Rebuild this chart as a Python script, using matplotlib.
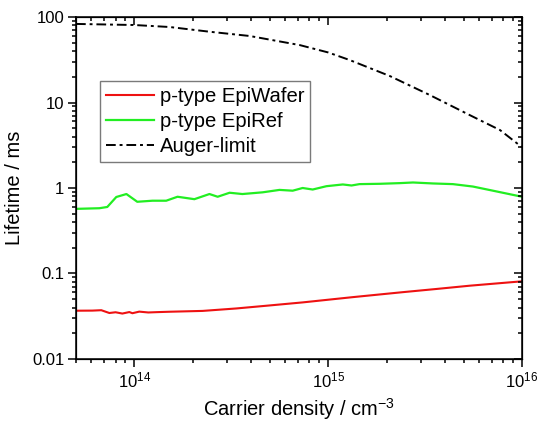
import matplotlib
matplotlib.use("Agg")
import matplotlib.pyplot as plt
import matplotlib.ticker as ticker

plt.rcParams['font.family'] = ['Liberation Sans', 'DejaVu Sans']
plt.rcParams['mathtext.fontset'] = 'custom'
plt.rcParams['mathtext.rm'] = 'Liberation Sans'
plt.rcParams['mathtext.it'] = 'Liberation Sans:italic'

# p-type EpiWafer
wafer_n = [5.0e13, 6.07e13, 6.75e13, 7.43e13, 8.0e13, 8.67e13, 9.42e13, 9.77e13,
           1.06e14, 1.18e14, 1.30e14, 1.52e14, 2.25e14, 3.36e14, 4.99e14,
           7.38e14, 1.34e15, 2.43e15, 3.64e15, 5.38e15, 1.0e16]
wafer_tau = [0.0367, 0.0368, 0.0372, 0.0345, 0.0352, 0.0340, 0.0354, 0.0343,
             0.0358, 0.0350, 0.0353, 0.0357, 0.0365, 0.0390, 0.0423,
             0.0459, 0.0529, 0.0605, 0.0660, 0.0720, 0.0810]

# p-type EpiRef
ref_n = [5.0e13, 6.6e13, 7.25e13, 8.07e13, 9.1e13, 1.035e14, 1.24e14, 1.46e14,
         1.67e14, 2.04e14, 2.44e14, 2.69e14, 3.10e14, 3.61e14, 4.59e14, 5.61e14,
         6.56e14, 7.38e14, 8.32e14, 9.8e14, 1.19e15, 1.32e15, 1.45e15, 1.85e15,
         2.34e15, 2.74e15, 3.47e15, 4.40e15, 5.58e15, 7.08e15, 1.0e16]
ref_tau = [0.57, 0.58, 0.60, 0.785, 0.85, 0.69, 0.71, 0.71,
           0.79, 0.74, 0.85, 0.79, 0.88, 0.85, 0.89, 0.95,
           0.93, 1.0, 0.96, 1.05, 1.10, 1.07, 1.11, 1.12,
           1.14, 1.16, 1.13, 1.11, 1.04, 0.93, 0.79]

# Auger limit
auger_n = [5.0e13, 1.0e14, 1.52e14, 2.44e14, 3.93e14, 7.12e14, 1.0e15, 1.29e15,
           2.08e15, 3.35e15, 5.39e15, 7.7e15, 1.0e16]
auger_tau = [83, 80.6, 76.4, 67.3, 60, 47, 38.5, 31.4, 20.4, 12.2, 7.1, 4.76, 3.0]

x_ticks = [1e14, 1e15, 1e16]
x_ticklabels = [r'$\mathregular{10^{14}}$', r'$\mathregular{10^{15}}$', r'$\mathregular{10^{16}}$']
y_ticks = [0.01, 0.1, 1, 10, 100]
y_ticklabels = ['0.01', '0.1', '1', '10', '100']

fig = plt.figure(figsize=(5.41, 4.21), dpi=100)
ax = fig.add_axes([0.1405, 0.1473, 0.8244, 0.8123])

ax.plot(wafer_n, wafer_tau, color='#ee1111', lw=1.5, label='p-type EpiWafer')
ax.plot(ref_n, ref_tau, color='#22ee22', lw=1.6, label='p-type EpiRef')
ax.plot(auger_n, auger_tau, color='k', lw=1.4, linestyle=(0, (5, 2, 1.5, 2)),
        label='Auger-limit')

ax.set_xscale('log')
ax.set_yscale('log')
ax.set_xlim(5e13, 1e16)
ax.set_ylim(0.01, 100)

ax.xaxis.set_major_locator(ticker.FixedLocator(x_ticks))
ax.xaxis.set_major_formatter(ticker.FixedFormatter(x_ticklabels))
ax.xaxis.set_minor_locator(ticker.LogLocator(base=10, subs=range(2, 10), numticks=20))
ax.xaxis.set_minor_formatter(ticker.NullFormatter())
ax.yaxis.set_major_locator(ticker.FixedLocator(y_ticks))
ax.yaxis.set_major_formatter(ticker.FixedFormatter(y_ticklabels))
ax.yaxis.set_minor_locator(ticker.LogLocator(base=10, subs=range(2, 10), numticks=20))
ax.yaxis.set_minor_formatter(ticker.NullFormatter())

ax.tick_params(which='both', direction='out', width=1.1, labelsize=12, pad=3,
               top=False, right=False)
ax.tick_params(which='major', length=5.5)
ax.tick_params(which='minor', length=3)
for sp in ax.spines.values():
    sp.set_linewidth(1.1)

# mirrored ticks pointing inward on top and right
axt = ax.twiny()
axt.set_xscale('log')
axt.set_xlim(ax.get_xlim())
axt.xaxis.set_minor_locator(ticker.LogLocator(base=10, subs=range(2, 10), numticks=20))
axt.tick_params(which='both', direction='in', width=1.1, labeltop=False)
axt.tick_params(which='major', length=5.5)
axt.tick_params(which='minor', length=3)
axr = ax.twinx()
axr.set_yscale('log')
axr.set_ylim(ax.get_ylim())
axr.yaxis.set_minor_locator(ticker.LogLocator(base=10, subs=range(2, 10), numticks=20))
axr.tick_params(which='both', direction='in', width=1.1, labelright=False)
axr.tick_params(which='major', length=5.5)
axr.tick_params(which='minor', length=3)

ax.set_xlabel(r'Carrier density / cm$^{\mathregular{-3}}$', fontsize=14.5, labelpad=4)
ax.set_ylabel('Lifetime / ms', fontsize=14.5, labelpad=6)

leg = ax.legend(loc='upper left', bbox_to_anchor=(0.054, 0.813), borderaxespad=0,
                fontsize=14.6, frameon=True, fancybox=False, handlelength=2.35,
                handletextpad=0.3, borderpad=0.3, labelspacing=0.3)
leg.get_frame().set_edgecolor('0.35')
leg.get_frame().set_linewidth(1.0)
leg.set_zorder(5)

fig.savefig('out.png', dpi=100)
